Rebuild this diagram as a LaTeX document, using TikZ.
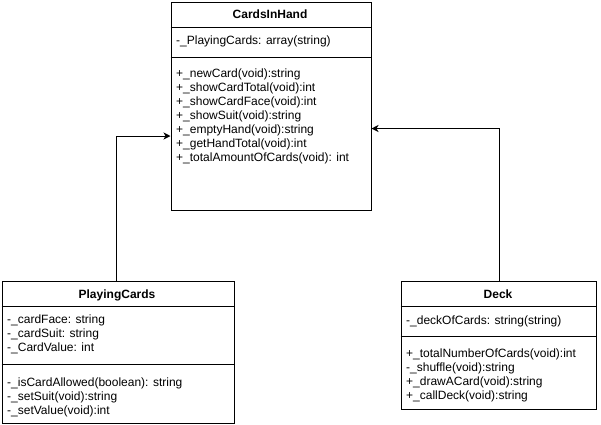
\documentclass[tikz,border=0pt]{standalone}
\usepackage{fontspec}
\setmainfont{Liberation Sans}
\usetikzlibrary{arrows.meta}
\begin{document}
\begin{tikzpicture}[x=1pt,y=-1pt,
  classbox/.style={draw=black, line width=1pt, fill=white, rectangle, inner sep=0pt, anchor=north west},
  sep/.style={draw=black, line width=1pt},
  title/.style={font=\fontsize{12}{14}\selectfont\bfseries, anchor=base, inner sep=0pt},
  member/.style={font=\fontsize{12}{14}\selectfont, anchor=base west, inner sep=0pt},
  conn/.style={draw=black, line width=1pt, -{Stealth[length=7pt,width=7pt,inset=2pt]}}
]
\useasboundingbox[fill=white] (0,0) rectangle (601,424);

% CardsInHand
\node[classbox, minimum width=200pt, minimum height=208pt] (cih) at (170.5,1.5) {};
\draw[sep] (cih.west |- 0,27.5) -- (cih.east |- 0,27.5);
\draw[sep] (cih.west |- 0,57.5) -- (cih.east |- 0,57.5);
\node[title] (cihT) at (270,18) {CardsInHand};
\node[member] (cihA1) at (176,44) {-\_PlayingCards: array(string)};
\node[member] (cihM1) at (176,77) {+\_newCard(void):string};
\node[member] (cihM2) at (176,91) {+\_showCardTotal(void):int};
\node[member] (cihM3) at (176,105) {+\_showCardFace(void):int};
\node[member] (cihM4) at (176,119) {+\_showSuit(void):string};
\node[member] (cihM5) at (176,133) {+\_emptyHand(void):string};
\node[member] (cihM6) at (176,147) {+\_getHandTotal(void):int};
\node[member] (cihM7) at (176,161) {+\_totalAmountOfCards(void): int};

% PlayingCards
\node[classbox, minimum width=232pt, minimum height=142pt] (pc) at (1.5,280.5) {};
\draw[sep] (pc.west |- 0,364.5) -- (pc.east |- 0,364.5);
\draw[sep] (pc.west |- 0,306.5) -- (pc.east |- 0,306.5);
\node[title] (pcT) at (117,298) {PlayingCards};
\node[member] (pcA1) at (7,323) {-\_cardFace: string};
\node[member] (pcA2) at (7,337) {-\_cardSuit: string};
\node[member] (pcA3) at (7,351) {-\_CardValue: int};
\node[member] (pcM1) at (7,386) {-\_isCardAllowed(boolean): string};
\node[member] (pcM2) at (7,400) {-\_setSuit(void):string};
\node[member] (pcM3) at (7,414) {-\_setValue(void):int};

% Deck
\node[classbox, minimum width=195pt, minimum height=128pt] (deck) at (400.5,280.5) {};
\draw[sep] (deck.west |- 0,306.5) -- (deck.east |- 0,306.5);
\draw[sep] (deck.west |- 0,336.5) -- (deck.east |- 0,336.5);
\node[title] (deckT) at (498,298) {Deck};
\node[member] (deckA1) at (406,324) {-\_deckOfCards: string(string)};
\node[member] (deckM1) at (406,357) {+\_totalNumberOfCards(void):int};
\node[member] (deckM2) at (406,371) {-\_shuffle(void):string};
\node[member] (deckM3) at (406,385) {+\_drawACard(void):string};
\node[member] (deckM4) at (406,399) {+\_callDeck(void):string};

% connectors
\draw[conn] (pc.north -| 116,0) |- ([yshift=-30pt]cih.west);
\draw[conn] (deck.north -| 499.5,0) |- ([yshift=-22.5pt]cih.east);
\end{tikzpicture}
\end{document}
